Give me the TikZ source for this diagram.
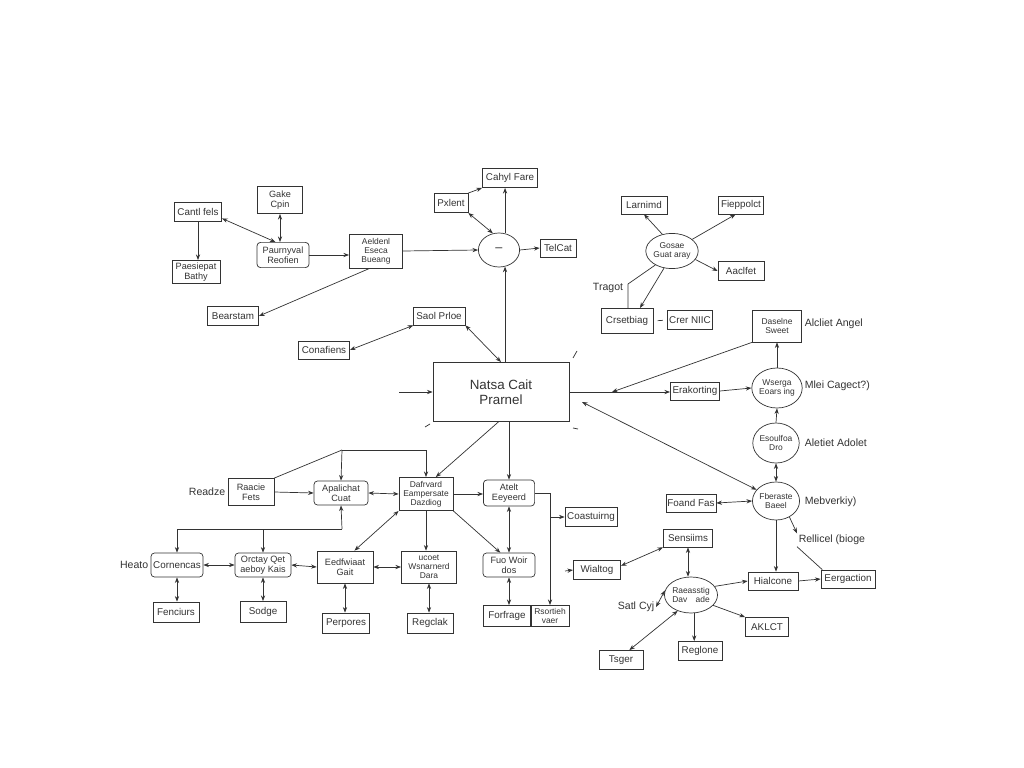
\documentclass[tikz,border=0pt]{standalone}
\usepackage{fontspec}
\setmainfont{Liberation Sans}
\usetikzlibrary{arrows.meta,shapes.geometric}

\begin{document}
\begin{tikzpicture}[x=0.025cm,y=-0.025cm,color=black!80,line width=0.5pt,
		>={Stealth[length=4pt,width=3pt]},
		box/.style={draw,rectangle,inner sep=1pt,align=center,font=\fontsize{7}{7.5}\selectfont},
		rbox/.style={box,rounded corners=2.5pt},
		two/.style={font=\fontsize{6.5}{7}\selectfont},
		three/.style={font=\fontsize{6}{6.5}\selectfont},
		circ/.style={draw,ellipse,inner sep=0pt,align=center,font=\fontsize{6}{6.5}\selectfont},
		lbl/.style={inner sep=1pt,font=\fontsize{7.5}{8}\selectfont}]
				\useasboundingbox[fill=white] (0,0) rectangle (1024,768);
				
				% main box
				\node[box,font=\fontsize{9.5}{11}\selectfont,minimum width=3.4cm,minimum height=1.48cm] (main) at (501,392) {Natsa Cait\\Prarnel};
				
				% top left
				\node[box,minimum width=1.18cm,minimum height=0.48cm] (cantl) at (198,212) {Cantl fels};
				\node[box,two,minimum width=1.13cm,minimum height=0.68cm] (gake) at (280,200) {Gake\\Cpin};
				\node[rbox,two,minimum width=1.3cm,minimum height=0.63cm] (paurn) at (283,255) {Paurnyval\\Reofien};
				\node[box,three,minimum width=1.33cm,minimum height=0.85cm] (aeld) at (376,251) {Aeldenl\\Eseca\\Bueang};
				\node[box,two,minimum width=1.2cm,minimum height=0.58cm] (paes) at (196,272) {Paesiepat\\Bathy};
				\node[box,minimum width=1.28cm,minimum height=0.48cm] (bears) at (233,316) {Bearstam};
				\node[box,minimum width=1.28cm,minimum height=0.45cm] (confi) at (324,350) {Conafiens};
				\node[box,minimum width=1.3cm,minimum height=0.45cm] (saol) at (439,316) {Saol Prloe};
				
				% top centre
				\node[circ,minimum width=1.03cm,minimum height=0.85cm,font=\small] (hub) at (499,250) {--};
				\node[box,minimum width=0.9cm,minimum height=0.45cm] (telcat) at (558,248) {TelCat};
				\node[box,minimum width=1.38cm,minimum height=0.48cm] (cahyl) at (510,178) {Cahyl Fare};
				\node[box,minimum width=0.85cm,minimum height=0.48cm] (pxlent) at (451,203) {Pxlent};
				
				% top right
				\node[circ,minimum width=1.13cm,minimum height=0.88cm] (gosae) at (672,251) {Gosae\\Guat aray};
				\node[box,minimum width=1.15cm,minimum height=0.45cm] (larn) at (644,205) {Larnimd};
				\node[box,minimum width=1.13cm,minimum height=0.45cm] (fiepp) at (741,205) {Fieppolct};
				\node[box,minimum width=1.15cm,minimum height=0.48cm] (aacl) at (741,271) {Aaclfet};
				\node[box,minimum width=1.3cm,minimum height=0.63cm] (crset) at (627,321) {Crsetbiag};
				\node[box,minimum width=1.13cm,minimum height=0.48cm] (crer) at (690,320) {Crer NIIC};
				\node[lbl] (tragot) at (608,288) {Tragot};
				
				% right column
				\node[box,minimum width=1.23cm,minimum height=0.45cm] (erak) at (695,391) {Erakorting};
				\node[box,three,minimum width=1.23cm,minimum height=0.8cm] (dasel) at (777,326) {Daselne\\Sweet};
				\node[circ,minimum width=1.1cm,minimum height=1.0cm] (wserga) at (777,388) {Wserga\\Eoars ing};
				\node[circ,minimum width=1.08cm,minimum height=1.0cm] (esoul) at (776,443) {Esoulfoa\\Dro};
				\node[circ,minimum width=1.1cm,minimum height=0.95cm] (fbera) at (776,501) {Fberaste\\Baeel};
				\node[lbl,anchor=west] (alcliet) at (803,324) {Alcliet Angel};
				\node[lbl,anchor=west] (mlei) at (803,386) {Mlei Cagect?)};
				\node[lbl,anchor=west] (aletiet) at (803,443) {Aletiet Adolet};
				\node[lbl,anchor=west] (mebver) at (803,502) {Mebverkiy)};
				\node[lbl,anchor=west] (rellicel) at (797,540) {Rellicel (bioge};
				\node[box,minimum width=1.23cm,minimum height=0.45cm] (foand) at (691,503) {Foand Fas};
				\node[box,minimum width=1.25cm,minimum height=0.45cm] (hialc) at (773,581) {Hialcone};
				\node[box,minimum width=1.35cm,minimum height=0.45cm] (eerg) at (848,579) {Eergaction};
				
				% bottom right
				\node[circ,minimum width=1.15cm,minimum height=0.9cm] (raeas) at (691,595) {Raeasstig\\Dav\quad ade};
				\node[box,minimum width=1.23cm,minimum height=0.45cm] (sens) at (688,538) {Sensiims};
				\node[box,minimum width=1.18cm,minimum height=0.48cm] (wialt) at (597,570) {Wialtog};
				\node[lbl,anchor=east] (satl) at (656,607) {Satl Cyj};
				\node[box,minimum width=1.1cm,minimum height=0.48cm] (tsger) at (621,660) {Tsger};
				\node[box,minimum width=1.1cm,minimum height=0.48cm] (regl) at (700,651) {Reglone};
				\node[box,minimum width=1.08cm,minimum height=0.48cm] (aklct) at (767,627) {AKLCT};
				\node[box,minimum width=1.3cm,minimum height=0.48cm] (coast) at (591,517) {Coastuirng};
				
				% bottom left
				\node[lbl,anchor=east] (readze) at (227,492) {Readze};
				\node[lbl,anchor=east] (heato) at (150,565) {Heato};
				\node[box,two,minimum width=1.15cm,minimum height=0.68cm] (raacie) at (251,492) {Raacie\\Fets};
				\node[rbox,two,minimum width=1.35cm,minimum height=0.6cm] (apal) at (341,493) {Apalichat\\Cuat};
				\node[box,three,minimum width=1.35cm,minimum height=0.83cm] (dafr) at (426,494) {Dafrvard\\Eampersate\\Dazdiog};
				\node[rbox,two,minimum width=1.28cm,minimum height=0.65cm] (atelt) at (509,493) {Atelt\\Eeyeerd};
				\node[rbox,minimum width=1.3cm,minimum height=0.6cm] (corn) at (177,565) {Cornencas};
				\node[rbox,two,minimum width=1.4cm,minimum height=0.6cm] (ortay) at (263,565) {Orctay Qet\\aeboy Kais};
				\node[box,two,minimum width=1.4cm,minimum height=0.8cm] (eedf) at (345,567) {Eedfwiaat\\Gait};
				\node[box,three,minimum width=1.38cm,minimum height=0.8cm] (wsnar) at (429,567) {ucoet\\Wsnarnerd\\Dara};
				\node[rbox,two,minimum width=1.3cm,minimum height=0.6cm] (fuo) at (509,565) {Fuo Woir\\dos};
				\node[box,minimum width=1.15cm,minimum height=0.5cm] (fenc) at (176,612) {Fenciurs};
				\node[box,minimum width=1.15cm,minimum height=0.53cm] (sodge) at (263,612) {Sodge};
				\node[box,minimum width=1.18cm,minimum height=0.5cm] (perp) at (346,623) {Perpores};
				\node[box,minimum width=1.15cm,minimum height=0.5cm] (regc) at (430,623) {Regclak};
				\node[box,minimum width=1.2cm,minimum height=0.53cm] (forf) at (507,616) {Forfrage};
				\node[box,three,minimum width=0.98cm,minimum height=0.53cm] (rsor) at (550,616) {Rsortieh\\vaer};
				
				% bend points
				\coordinate (jA) at (342,450);
				\coordinate (jB) at (342,529);
				\coordinate (jD) at (628,284);
				\coordinate (jE) at (612,392);
				\coordinate (jF) at (582,402);
				\coordinate (jG) at (399,392);
				\coordinate (jH) at (565,571);
				
				% top left links
				\draw[->] (cantl.south) -- (cantl.south |- paes.north);
				\draw[<->] (cantl.-15) -- (paurn.120);
				\draw[<->] (gake.south) -- (gake.south |- paurn.north);
				\draw[->] (paurn.east) -- (paurn.east -| aeld.west);
				\draw[->] (aeld.east) -- (hub.west);
				\draw[->] (aeld.250) -- (bears.east);
				\draw[<->] (saol.200) -- (confi.east);
				\draw[<->] (saol.south east) -- (main.north);
				
				% top centre links
				\draw[->] (main.north -| hub.-70) -- (hub.-70);
				\draw[->] (hub.70) -- (hub.70 |- cahyl.south);
				\draw[->] (hub.east) -- (telcat.west);
				\draw[->] (pxlent.north east) -- (cahyl.south west);
				\draw[<->] (pxlent.south east) -- (hub.110);
				
				% top right links
				\draw[->] (gosae.120) -- (larn.south);
				\draw[->] (gosae.30) -- (fiepp.240);
				\draw[->] (gosae.-20) -- (aacl.west);
				\draw[->] (gosae.-115) -- (crset.45);
				\draw (gosae.-140) -- (jD) -- (jD |- crset.north);
				\draw[shorten <=3pt,shorten >=3pt] (crer.west) -- (crset.east);
				
				% right links
				\draw[->] (jG) -- (main.west);
				\draw[->] (main.east) -- (main.east -| erak.west);
				\draw[->] (dasel.south west) -- (jE);
				\draw[<->] (jF) -- (fbera.150);
				\draw[->] (erak.east) -- (wserga.west);
				\draw[->] (wserga.north) -- (dasel.south);
				\draw[->] (esoul.north) -- (wserga.south);
				\draw[<->] (esoul.south) -- (fbera.north);
				\draw[<->] (foand.east) -- (fbera.west);
				\draw[->] (fbera.south) -- (fbera.south |- hialc.north);
				\draw[->] (fbera.-50) -- (rellicel.north west);
				\draw (rellicel.south west) -- (eerg.160);
				\draw[->] (hialc.east) -- (eerg.west);
				
				% bottom right links
				\draw[->] (raeas.20) -- (hialc.west);
				\draw[<->] (sens.south) -- (sens.south |- raeas.north);
				\draw[<->] (sens.south west) -- (wialt.10);
				\draw[->] (jH) -- (wialt.west);
				\draw[<->] (satl.east) -- (raeas.170);
				\draw[<->] (raeas.-130) -- (tsger.50);
				\draw[->] (raeas.-80) -- (raeas.-80 |- regl.north);
				\draw[->] (raeas.-25) -- (aklct.north west);
				
				% bottom left links
				\draw[->] (main.-95) -- (dafr.60);
				\draw[->] (main.south -| atelt.north) -- (atelt.north);
				\draw[->] (dafr.east) -- (dafr.east -| atelt.west);
				\draw[->] (dafr.south east) -- (fuo.125);
				\draw[<->] (atelt.south) -- (fuo.north);
				\draw[<->] (fuo.south) -- (fuo.south |- forf.north);
				\draw[->] (atelt.east) -| (rsor.north);
				\draw[->] (coast.west -| rsor.north) -- (coast.west);
				\draw[->] (raacie.east) -- (apal.west);
				\draw (raacie.north east) -- (jA);
				\draw[->] (jA) -- (apal.north);
				\draw[->] (jA) -| (dafr.north);
				\draw[<->] (apal.east) -- (dafr.west);
				\draw[->] (jB) -- (apal.south);
				\draw[->] (jB) -| (corn.north);
				\draw[->] (ortay.north |- jB) -- (ortay.north);
				\draw[<->] (corn.east) -- (ortay.west);
				\draw[<->] (ortay.east) -- (eedf.west);
				\draw[<->] (corn.south) -- (corn.south |- fenc.north);
				\draw[<->] (ortay.south) -- (sodge.north);
				\draw[<->] (eedf.60) -- (dafr.south west);
				\draw[<->] (eedf.east) -- (wsnar.west);
				\draw[<->] (eedf.south) -- (eedf.south |- perp.north);
				\draw[->] (dafr.south) -- (dafr.south |- wsnar.north);
				\draw[<->] (wsnar.south) -- (wsnar.south |- regc.north);
				
				% small strokes round the main box
				\draw (573,358) -- (577,351);
				\draw (425,427) -- (430,424);
				\draw (573,428) -- (578,429);
			\end{tikzpicture}
\end{document}
